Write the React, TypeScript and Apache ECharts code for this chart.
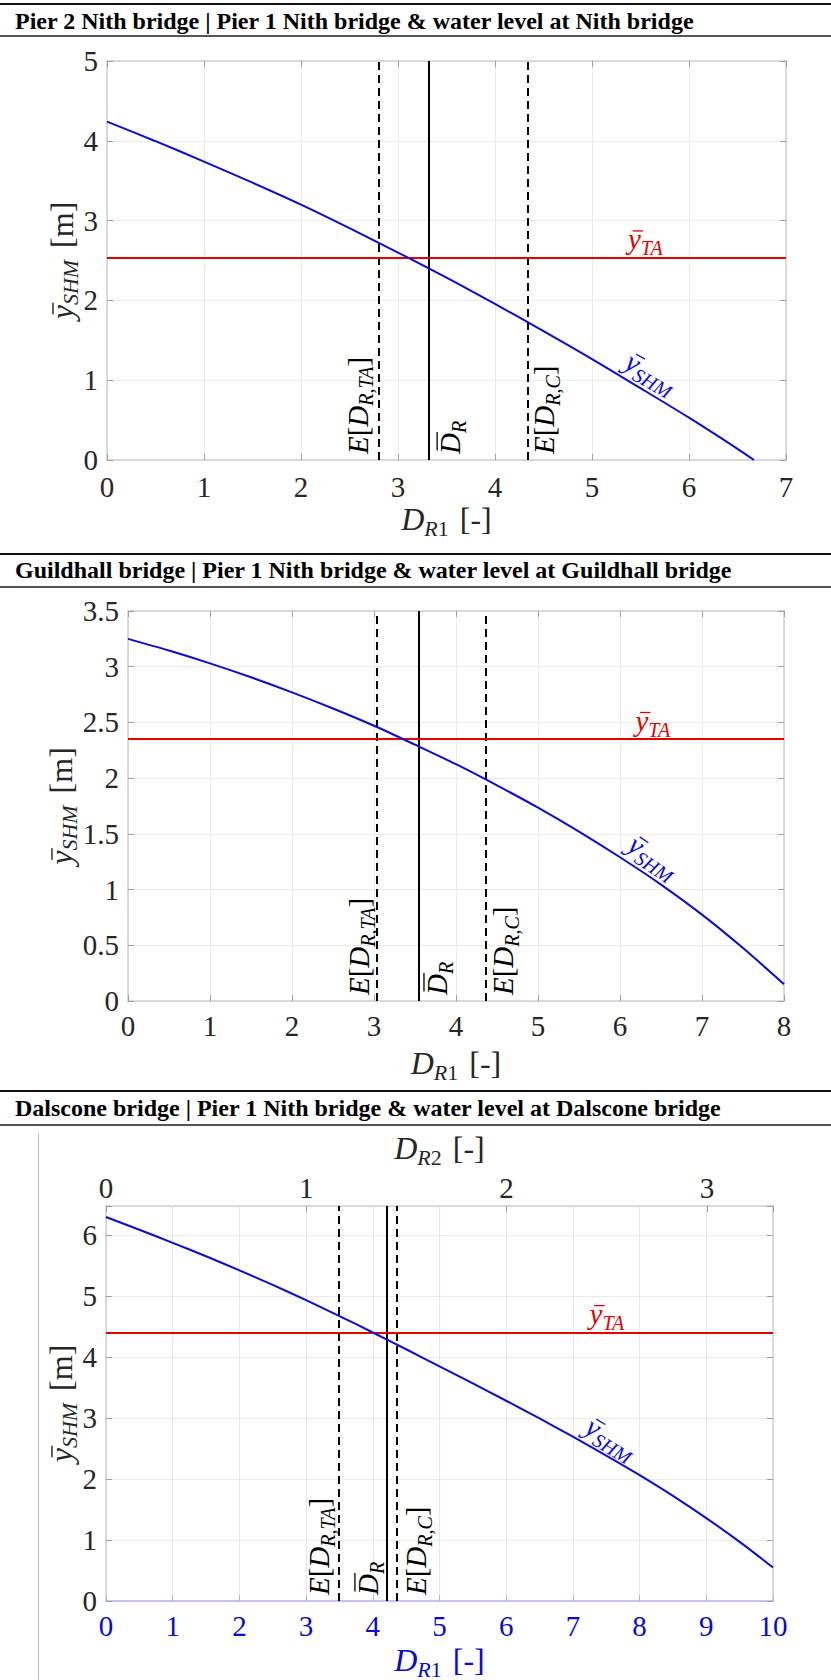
import React, { useEffect, useRef } from 'react';
import * as echarts from 'echarts';

// ---------------- Data ----------------
const panelTitles = [
  'Pier 2 Nith bridge | Pier 1 Nith bridge & water level at Nith bridge',
  'Guildhall bridge | Pier 1 Nith bridge & water level at Guildhall bridge',
  'Dalscone bridge | Pier 1 Nith bridge & water level at Dalscone bridge',
];

// Panel 1 - Nith bridge
const nithDR1 = [0, 0.5, 1, 1.5, 2, 2.5, 3, 3.5, 4, 4.5, 5, 5.5, 6, 6.5, 6.67];
const nithYSHM = [4.24, 3.995, 3.74, 3.475, 3.2, 2.905, 2.6, 2.285, 1.955, 1.615, 1.265, 0.9, 0.53, 0.14, 0];
const nithYTA = 2.53;
const nithMarkers = [2.8, 3.32, 4.34]; // E[D_R,TA], mean D_R, E[D_R,C]
const nithXRange = [0, 7];
const nithYRange = [0, 5];
const nithXTicks = [0, 1, 2, 3, 4, 5, 6, 7];
const nithYTicks = [0, 1, 2, 3, 4, 5];

// Panel 2 - Guildhall bridge
const guildDR1 = [0, 0.5, 1, 1.5, 2, 2.5, 3, 3.5, 4, 4.5, 5, 5.5, 6, 6.5, 7, 7.5, 8];
const guildYSHM = [3.25, 3.145, 3.03, 2.905, 2.77, 2.625, 2.47, 2.3, 2.125, 1.935, 1.735, 1.52, 1.29, 1.045, 0.775, 0.475, 0.15];
const guildYTA = 2.345;
const guildMarkers = [3.03, 3.535, 4.355];
const guildXRange = [0, 8];
const guildYRange = [0, 3.5];
const guildXTicks = [0, 1, 2, 3, 4, 5, 6, 7, 8];
const guildYTicks = [0, 0.5, 1, 1.5, 2, 2.5, 3, 3.5];

// Panel 3 - Dalscone bridge
const dalsDR1 = [0, 0.5, 1, 1.5, 2, 2.5, 3, 3.5, 4, 4.5, 5, 5.5, 6, 6.5, 7, 7.5, 8, 8.5, 9, 9.5, 10];
const dalsYSHM = [6.3, 6.09, 5.875, 5.655, 5.425, 5.185, 4.935, 4.675, 4.405, 4.13, 3.85, 3.57, 3.285, 2.995, 2.695, 2.385, 2.065, 1.725, 1.36, 0.97, 0.55];
const dalsYTA = 4.4;
const dalsMarkers = [3.49, 4.21, 4.36];
const dalsXRange = [0, 10];
const dalsYRange = [0, 6.48];
const dalsDR2Range = [0, 3.33];
const dalsXTicks = [0, 1, 2, 3, 4, 5, 6, 7, 8, 9, 10];
const dalsYTicks = [0, 1, 2, 3, 4, 5, 6];
const dalsDR2Ticks = [0, 1, 2, 3];

const panels = [
  { xs: nithDR1, ys: nithYSHM, yTA: nithYTA, marks: nithMarkers, xr: nithXRange, yr: nithYRange, xt: nithXTicks, yt: nithYTicks },
  { xs: guildDR1, ys: guildYSHM, yTA: guildYTA, marks: guildMarkers, xr: guildXRange, yr: guildYRange, xt: guildXTicks, yt: guildYTicks },
  { xs: dalsDR1, ys: dalsYSHM, yTA: dalsYTA, marks: dalsMarkers, xr: dalsXRange, yr: dalsYRange, xt: dalsXTicks, yt: dalsYTicks },
];

// ---------------- Styles / layout ----------------
const SERIF_CSS = "'Liberation Serif', 'Times New Roman', serif";
const TXT = '#262626';
const BOX = '#cfcfcf';
const GRIDC = '#ebebeb';
const TICKC = '#9e9e9e';
const BLUE = '#0c0cd2';
const RED = '#e60000';
const AXBLUE = '#0a0ad0';
const AXBLUE_LINE = '#b0b0f2';
const GRID_BLUE = '#e6e6fb';
const TICK_FS = 29;
const NAME_FS = 32;
const LBL_FS = 29;

const layout = [
  {
    bar: [4, 20.5, 36], grid: { left: 107, top: 61, width: 679, height: 399 },
    xInt: 1, yInt: 1, xLabelDy: 26.7, xNameDy: 59, yNameDx: -45,
    vDx: [-21, 21, 16], ta: 5.55, shm: [5.61, 1.1], shmRot: -30,
  },
  {
    bar: [554, 569.5, 587], grid: { left: 128, top: 611, width: 656, height: 390 },
    xInt: 1, yInt: 0.5, xLabelDy: 25, xNameDy: 61.5, yNameDx: -67,
    vDx: [-17, 19, 18], ta: 6.4, shm: [6.41, 1.3], shmRot: -34,
  },
  {
    bar: [1091, 1108, 1125], grid: { left: 106, top: 1206, width: 667, height: 395 },
    xInt: 1, yInt: 1, xLabelDy: 25.4, xNameDy: 59, yNameDx: -45,
    vDx: [-20, -19, 19], ta: 7.51, shm: [7.575, 2.68], shmRot: -31,
  },
];

// ---------------- text helpers ----------------
let measureCtx: CanvasRenderingContext2D | null = null;
function tw(t: string, font: string) {
  if (!measureCtx) measureCtx = document.createElement('canvas').getContext('2d');
  measureCtx!.font = font;
  return measureCtx!.measureText(t).width;
}
function fnt(size: number, italic = false, bold = false) {
  return `${italic ? 'italic' : 'normal'} ${bold ? 'bold' : 'normal'} ${size}px ${SERIF_CSS}`;
}
function plain(x: number, y: number, text: string, font: string, fill: string, align = 'center', vAlign = 'middle') {
  return {
    type: 'text', silent: true, z: 30, x, y,
    style: { text, font, fill, textAlign: align, textVerticalAlign: vAlign, align, verticalAlign: vAlign },
  };
}

type Piece = { t: string; it?: boolean; sub?: boolean; bar?: 'cap' | 'x'; gap?: number };

function mathGroup(pieces: Piece[], M: number, color: string, x: number, y: number, rotation: number, align: 'left' | 'center', drop = 0.2) {
  const s = Math.round(M * 0.7);
  let cx = 0;
  const kids: any[] = [];
  const bars: number[][] = [];
  pieces.forEach((p) => {
    cx += p.gap || 0;
    const size = p.sub ? s : M;
    const f = fnt(size, !!p.it);
    const w = tw(p.t, f);
    const baseline = 0.3375 * M + (p.sub ? drop * M : 0);
    kids.push({
      type: 'text', silent: true, x: cx, y: baseline - 0.3375 * size,
      style: { text: p.t, font: f, fill: color, textAlign: 'left', textVerticalAlign: 'middle', align: 'left', verticalAlign: 'middle' },
    });
    if (p.bar === 'cap') bars.push([cx + 0.12 * M, cx + w + 0.04 * M, 0.3375 * M - 0.662 * M - 0.12 * M]);
    if (p.bar === 'x') bars.push([cx + 0.16 * M, cx + 0.52 * M, 0.3375 * M - 0.46 * M - 0.16 * M]);
    cx += w;
  });
  const off = align === 'center' ? -cx / 2 : 0;
  kids.forEach((k) => { k.x += off; });
  bars.forEach(([a, b, yy]) => kids.push({
    type: 'line', silent: true,
    shape: { x1: a + off, y1: yy, x2: b + off, y2: yy },
    style: { stroke: color, lineWidth: Math.max(1.2, M * 0.045) },
  }));
  return { type: 'group', silent: true, z: 30, x, y, rotation, children: kids };
}

const xName = (n: string): Piece[] => [{ t: 'D', it: true }, { t: 'R', it: true, sub: true }, { t: n, sub: true }, { t: '[-]', gap: 11 }];
const yName: Piece[] = [{ t: 'y', it: true, bar: 'x' }, { t: 'SHM', it: true, sub: true }, { t: '[m]', gap: 12 }];
const vLabels: Piece[][] = [
  [{ t: 'E', it: true }, { t: '[' }, { t: 'D', it: true }, { t: 'R,TA', it: true, sub: true }, { t: ']' }],
  [{ t: 'D', it: true, bar: 'cap' }, { t: 'R', it: true, sub: true }],
  [{ t: 'E', it: true }, { t: '[' }, { t: 'D', it: true }, { t: 'R,C', it: true, sub: true }, { t: ']' }],
];
const yTALabel: Piece[] = [{ t: 'y', it: true, bar: 'x' }, { t: 'TA', it: true, sub: true }];
const ySHMLabel: Piece[] = [{ t: 'y', it: true, bar: 'x' }, { t: 'SHM', it: true, sub: true }];

// ---------------- option ----------------
function buildOption() {
  const grid: any[] = [];
  const xAxis: any[] = [];
  const yAxis: any[] = [];
  const series: any[] = [];

  panels.forEach((p, i) => {
    const L = layout[i];
    const blue = i === 2;
    grid.push({ ...L.grid, containLabel: false, outerBoundsMode: 'none' });

    xAxis.push({
      type: 'value', gridIndex: i, position: 'bottom', min: p.xr[0], max: p.xr[1], interval: L.xInt,
      axisLine: { show: true, onZero: false, lineStyle: { color: blue ? AXBLUE_LINE : BOX, width: 1.5 } },
      axisTick: { show: true, inside: true, length: 6, lineStyle: { color: blue ? AXBLUE_LINE : TICKC } },
      splitLine: { show: true, lineStyle: { color: blue ? GRID_BLUE : GRIDC, width: 1 } },
      axisLabel: { show: false },
    });
    xAxis.push({
      type: 'value', gridIndex: i, position: 'top',
      min: blue ? dalsDR2Range[0] : p.xr[0], max: blue ? dalsDR2Range[1] : p.xr[1], interval: L.xInt,
      axisLine: { show: true, onZero: false, lineStyle: { color: BOX, width: 1.5 } },
      axisTick: { show: true, inside: true, length: 6, lineStyle: { color: TICKC } },
      splitLine: { show: false }, axisLabel: { show: false },
    });
    yAxis.push({
      type: 'value', gridIndex: i, position: 'left', min: p.yr[0], max: p.yr[1], interval: L.yInt,
      axisLine: { show: true, onZero: false, lineStyle: { color: BOX, width: 1.5 } },
      axisTick: { show: true, inside: true, length: 6, lineStyle: { color: TICKC } },
      splitLine: { show: true, lineStyle: { color: GRIDC, width: 1 } },
      axisLabel: { show: false },
    });
    yAxis.push({
      type: 'value', gridIndex: i, position: 'right', min: p.yr[0], max: p.yr[1], interval: L.yInt,
      axisLine: { show: true, onZero: false, lineStyle: { color: BOX, width: 1.5 } },
      axisTick: { show: true, inside: true, length: 6, lineStyle: { color: TICKC } },
      splitLine: { show: false }, axisLabel: { show: false },
    });

    const dashed = { color: '#000', width: 2, type: [8, 5] };
    series.push({
      type: 'line', xAxisIndex: 2 * i, yAxisIndex: 2 * i,
      data: p.xs.map((x, k) => [x, p.ys[k]]),
      showSymbol: false, symbol: 'none', smooth: 0.3, silent: true, z: 5,
      lineStyle: { color: BLUE, width: 2 }, itemStyle: { color: BLUE },
      markLine: {
        silent: true, symbol: ['none', 'none'], label: { show: false }, z: 4,
        data: [
          { xAxis: p.marks[0], lineStyle: dashed },
          { xAxis: p.marks[1], lineStyle: { color: '#000', width: 2, type: 'solid' } },
          { xAxis: p.marks[2], lineStyle: dashed },
          { yAxis: p.yTA, lineStyle: { color: RED, width: 2.2, type: 'solid' } },
        ],
      },
    });
  });

  return { animation: false, backgroundColor: '#fff', grid, xAxis, yAxis, series };
}

function buildGraphics(chart: any) {
  const els: any[] = [];
  layout.forEach((L, i) => {
    els.push({ type: 'line', silent: true, shape: { x1: 0, y1: L.bar[0], x2: 831, y2: L.bar[0] }, style: { stroke: '#111', lineWidth: 2 } });
    els.push({ type: 'line', silent: true, shape: { x1: 0, y1: L.bar[2], x2: 831, y2: L.bar[2] }, style: { stroke: '#555', lineWidth: 2 } });
    els.push(plain(15, L.bar[1], panelTitles[i], fnt(24, false, true), '#000', 'left'));
  });
  els.push({ type: 'line', silent: true, shape: { x1: 38.5, y1: 1133, x2: 38.5, y2: 1680 }, style: { stroke: '#bdbdbd', lineWidth: 1 } });

  panels.forEach((p, i) => {
    const L = layout[i];
    const blue = i === 2;
    const toPx = (x: number, y: number) => chart.convertToPixel({ seriesIndex: i }, [x, y]);
    const o = toPx(p.xr[0], p.yr[0]);
    const e = toPx(p.xr[1], p.yr[1]);
    const axisY = o[1];
    const axisX = o[0];
    const midX = (o[0] + e[0]) / 2;
    const midY = (o[1] + e[1]) / 2;
    const tickColor = blue ? AXBLUE : TXT;

    // tick labels
    p.xt.forEach((v) => {
      const q = toPx(v, p.yr[0]);
      els.push(plain(q[0], axisY + L.xLabelDy, String(v), fnt(TICK_FS), tickColor));
    });
    p.yt.forEach((v) => {
      const q = toPx(p.xr[0], v);
      els.push(plain(axisX - 9, q[1], String(v), fnt(TICK_FS), TXT, 'right'));
    });
    // axis names
    els.push(mathGroup(xName('1'), NAME_FS, tickColor, midX, axisY + L.xNameDy, 0, 'center'));
    els.push(mathGroup(yName, NAME_FS, TXT, axisX + L.yNameDx, midY, Math.PI / 2, 'center', 0.15));

    if (blue) {
      const topY = e[1];
      dalsDR2Ticks.forEach((v) => {
        const xp = chart.convertToPixel({ xAxisIndex: 5 }, v);
        els.push(plain(xp, topY - 17.7, String(v), fnt(TICK_FS), TXT));
      });
      els.push(mathGroup(xName('2'), NAME_FS, TXT, midX, topY - 58, 0, 'center'));
    }

    // vertical line labels
    p.marks.forEach((m, k) => {
      const pt = toPx(m, p.yr[0]);
      els.push(mathGroup(vLabels[k], LBL_FS, '#000', pt[0] + L.vDx[k], pt[1] - 6, Math.PI / 2, 'left'));
    });
    const t = toPx(L.ta, p.yTA);
    els.push(mathGroup(yTALabel, LBL_FS, RED, t[0], t[1] - 19, 0, 'center'));
    const s = toPx(L.shm[0], L.shm[1]);
    els.push(mathGroup(ySHMLabel, LBL_FS, BLUE, s[0], s[1], (L.shmRot * Math.PI) / 180, 'center'));
  });
  return els;
}

export default function App() {
  const ref = useRef<HTMLDivElement>(null);
  useEffect(() => {
    const chart = echarts.init(ref.current as HTMLDivElement, null, { renderer: 'svg' });
    chart.setOption(buildOption());
    chart.setOption({ graphic: { elements: buildGraphics(chart) } });
    return () => chart.dispose();
  }, []);
  return (
    <div
      ref={ref}
      style={{ position: 'absolute', left: 0, top: 0, width: 831, height: 1680, background: '#fff' }}
    />
  );
}
